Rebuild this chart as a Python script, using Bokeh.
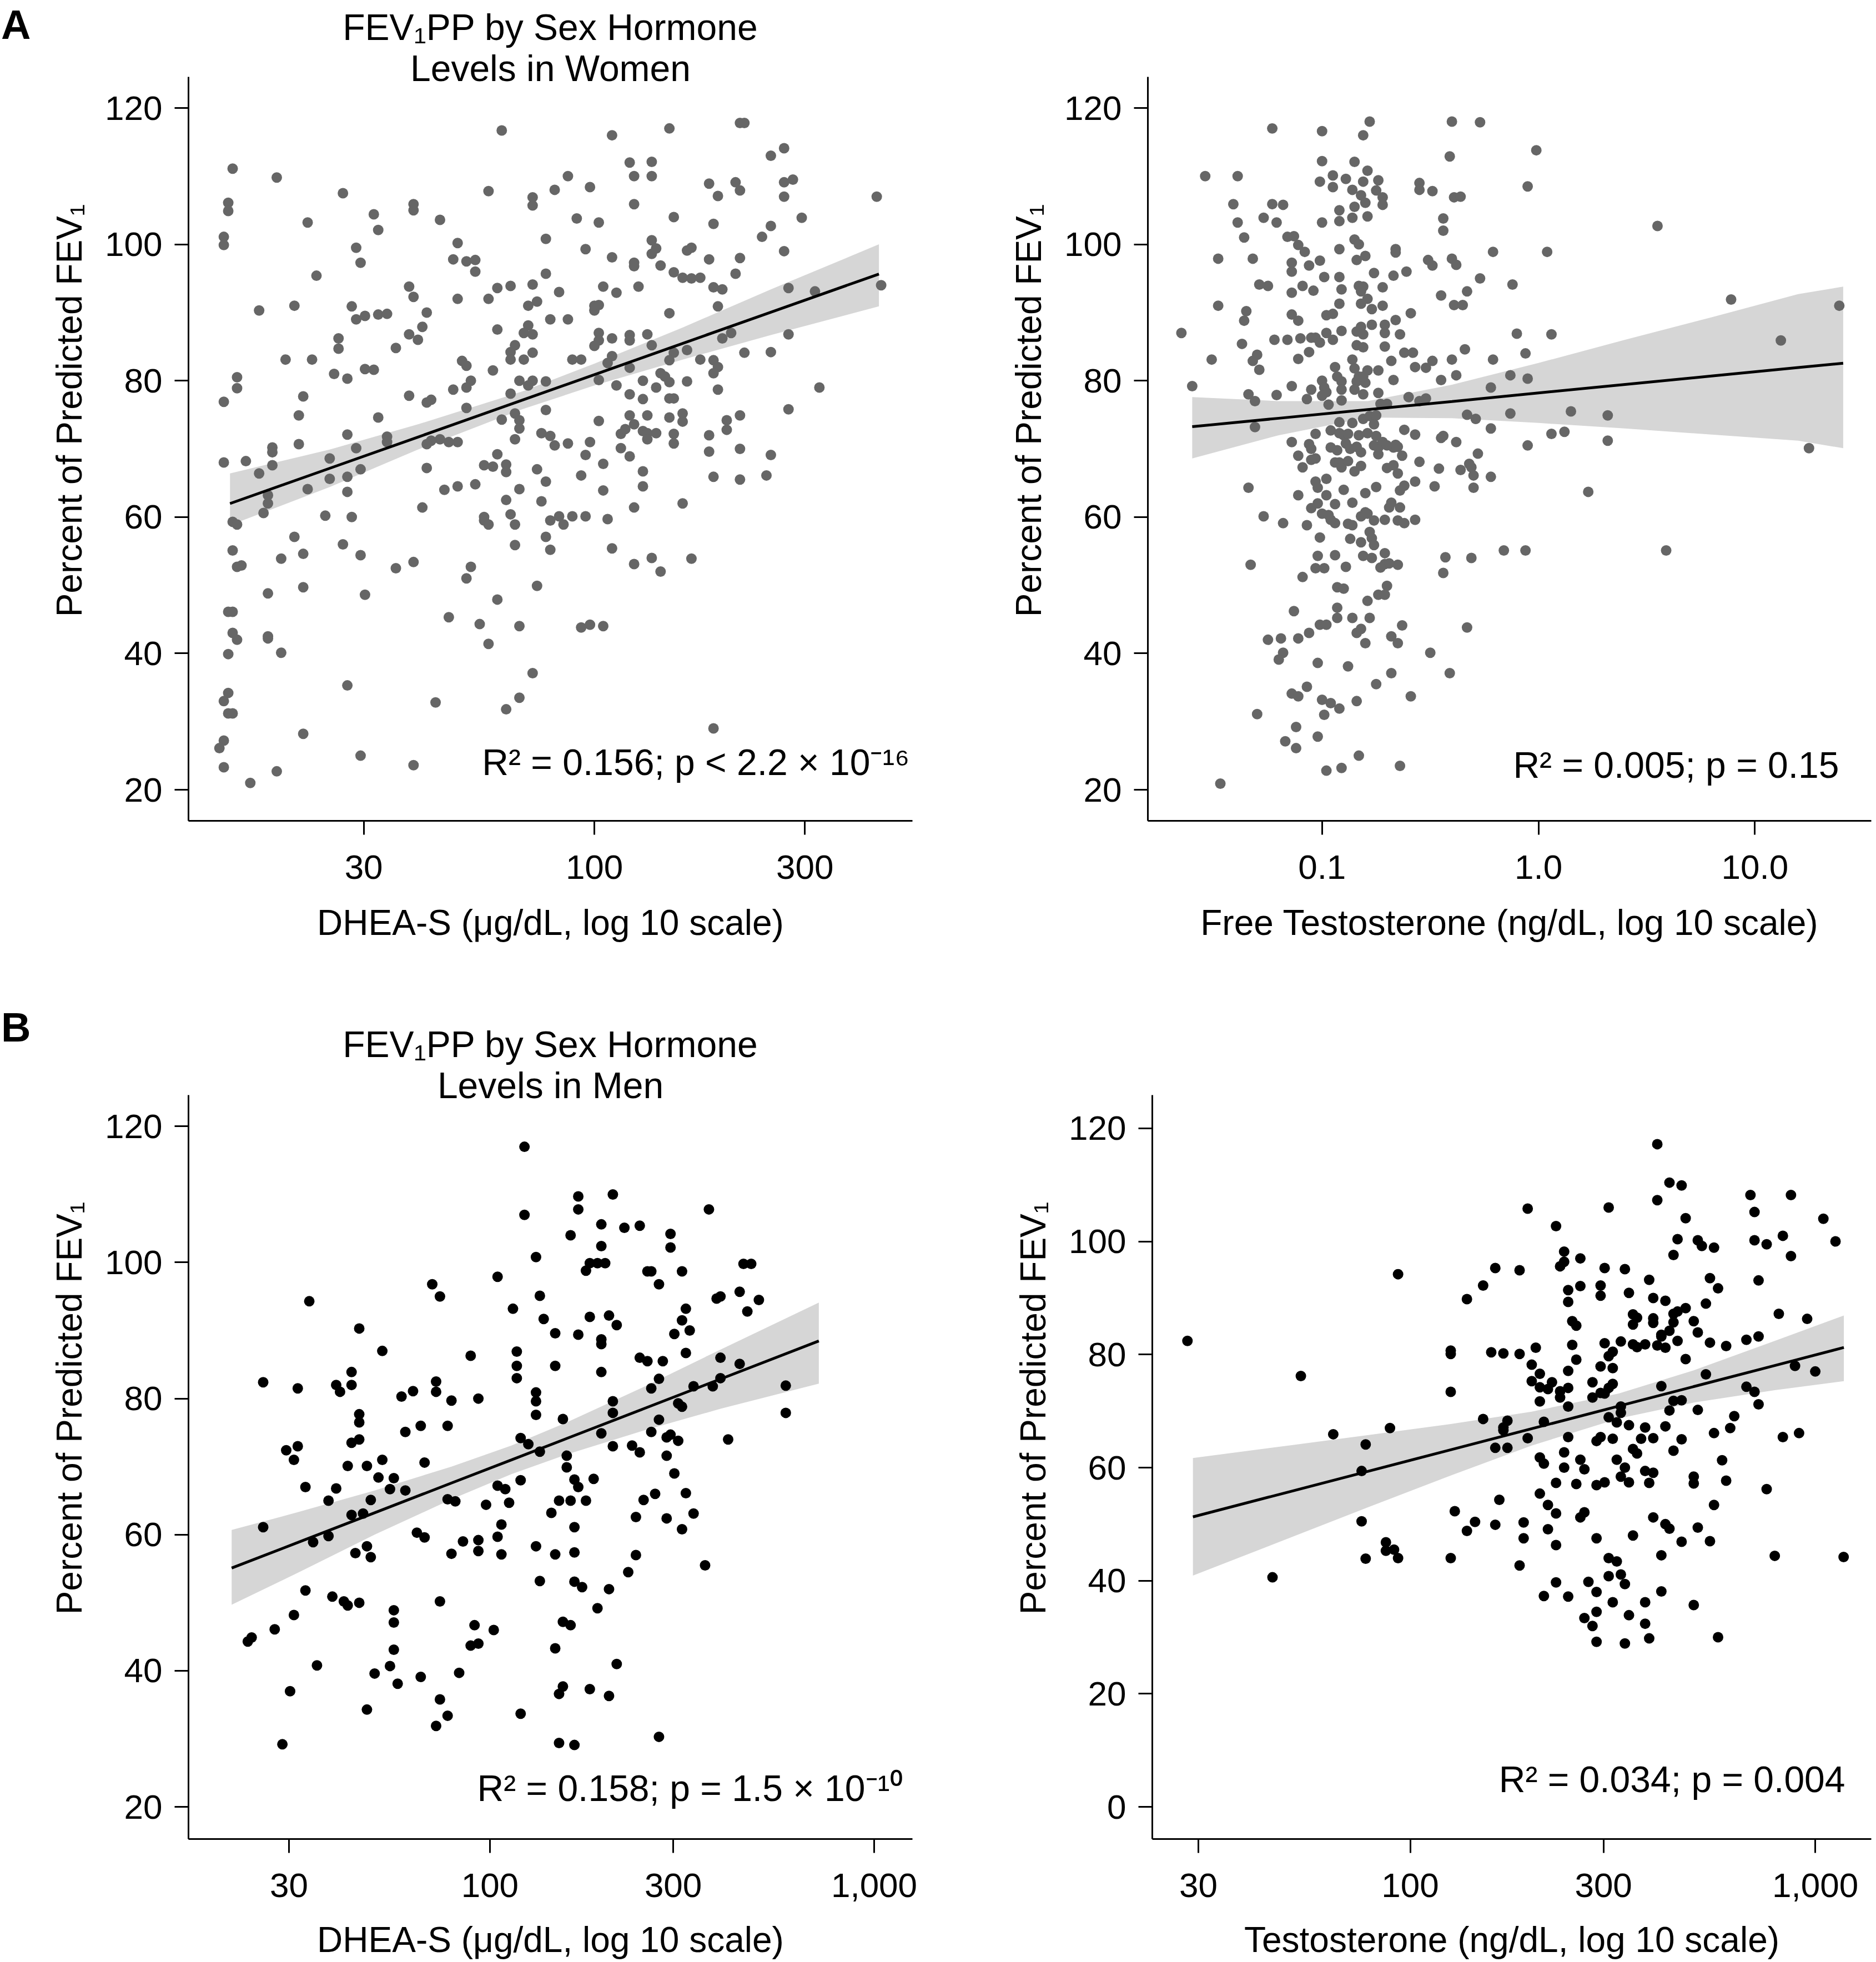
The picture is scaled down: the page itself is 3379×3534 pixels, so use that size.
import numpy as np
from bokeh.plotting import figure
from bokeh.models import Range1d, FixedTicker, Label, CustomJSTickFormatter, Div
from bokeh.layouts import column, row
from bokeh.embed import file_html
from bokeh.resources import INLINE

FONT = "Liberation Sans"

# ---------------- Panel A (women): DHEA-S (log10 ug/dL) vs FEV1 % predicted ----------------
women_dhea_log10 = [
    1.79, 2.33, 2.34, 2.17, 2.04, 2.43, 2.40, 2.08, 2.13, 1.18,
    2.09, 2.13, 1.94, 1.28, 2.26, 2.32, 2.33, 2.43, 2.45, 1.99,
    1.43, 1.76, 1.91, 1.86, 1.86, 2.28, 2.43, 2.64, 1.17, 1.17,
    1.59, 1.59, 2.09, 1.50, 2.18, 1.96, 1.65, 2.47, 1.35, 2.01,
    2.27, 2.40, 1.51, 2.38, 1.16, 1.16, 1.89, 2.13, 1.69, 1.46,
    1.98, 2.14, 2.13, 2.21, 2.22, 2.43, 1.68, 1.71, 1.73, 2.04,
    2.26, 2.33, 1.47, 2.09, 2.09, 2.15, 1.73, 2.18, 1.89, 2.32,
    1.37, 2.20, 2.22, 2.24, 1.86, 1.78, 1.81, 1.58, 2.02, 2.10,
    2.27, 2.29, 2.44, 2.50, 2.65, 1.92, 2.05, 1.59, 1.69, 1.76,
    1.87, 1.85, 1.32, 2.28, 1.24, 1.45, 1.48, 1.46, 1.51, 1.53,
    1.62, 2.17, 2.00, 2.00, 2.01, 1.90, 1.94, 1.61, 1.85, 1.84,
    1.86, 1.78, 1.58, 1.60, 2.01, 2.04, 2.08, 2.08, 2.12, 2.44,
    2.31, 2.29, 1.42, 1.42, 2.01, 2.00, 2.13, 1.82, 1.55, 2.21,
    2.18, 1.81, 1.81, 1.86, 2.34, 2.40, 1.30, 1.36, 1.70, 1.71,
    1.84, 1.95, 1.97, 2.24, 2.27, 2.17, 2.04, 2.03, 2.08, 2.28,
    2.27, 1.48, 1.50, 1.77, 1.41, 1.44, 1.19, 1.19, 2.15, 2.16,
    2.17, 1.83, 1.86, 1.85, 1.72, 1.89, 2.01, 2.05, 2.11, 2.21,
    2.14, 2.51, 1.68, 1.71, 2.28, 1.34, 1.81, 1.58, 1.16, 2.08,
    2.11, 2.17, 2.18, 1.62, 1.63, 1.71, 2.44, 1.89, 1.33, 1.51,
    2.08, 2.12, 2.17, 2.20, 2.20, 2.33, 1.79, 1.82, 1.83, 2.01,
    2.09, 2.30, 2.30, 1.83, 2.06, 2.07, 2.11, 2.12, 2.14, 2.18,
    1.88, 1.90, 1.44, 1.53, 1.53, 1.65, 1.63, 1.62, 1.67, 1.69,
    1.82, 2.12, 2.26, 1.99, 1.33, 1.94, 1.91, 2.06, 2.18, 1.27,
    1.27, 1.46, 2.26, 2.33, 1.78, 1.98, 2.08, 2.40, 1.40, 1.21,
    1.16, 1.27, 1.75, 1.77, 1.80, 1.80, 2.02, 1.62, 1.47, 1.87,
    2.11, 1.24, 1.44, 1.97, 2.27, 2.39, 2.33, 1.40, 1.89, 1.69,
    1.73, 1.66, 1.35, 2.11, 1.83, 1.44, 2.02, 1.26, 1.26, 1.80,
    1.88, 2.20, 2.09, 1.61, 1.25, 1.81, 1.92, 1.95, 1.98, 1.39,
    1.45, 1.75, 1.75, 1.76, 2.03, 1.90, 1.93, 1.18, 1.19, 1.82,
    1.32, 1.89, 1.43, 1.82, 1.18, 1.90, 2.04, 1.34, 1.47, 1.29,
    2.13, 2.22, 2.09, 1.59, 1.19, 1.20, 1.55, 1.72, 1.71, 2.15,
    1.87, 1.34, 1.26, 1.48, 1.78, 1.17, 1.18, 1.67, 1.74, 1.83,
    1.97, 1.99, 2.02, 1.18, 1.19, 1.26, 1.26, 1.76, 1.29, 1.17,
    1.86, 1.44, 1.17, 1.16, 1.17, 1.18, 1.64, 1.83, 1.80, 2.27,
    1.34, 1.16, 1.15, 1.47, 1.59, 1.16, 1.28, 1.22,
]
women_dhea_fev = [
    116.7, 117.8, 117.8, 117.0, 116.0, 114.1, 113.0, 112.0, 112.1, 111.1,
    110.0, 110.0, 110.0, 109.8, 108.9, 109.1, 107.9, 109.1, 109.5, 108.4,
    107.5, 107.8, 108.0, 106.9, 105.7, 107.1, 107.0, 107.0, 106.1, 104.9,
    105.9, 105.0, 105.9, 104.4, 104.0, 103.8, 103.6, 103.9, 103.2, 103.2,
    103.0, 102.7, 102.1, 101.1, 101.1, 99.9, 100.8, 100.6, 100.2, 99.5,
    99.3, 99.4, 98.6, 99.1, 99.5, 99.0, 97.8, 97.5, 97.7, 98.1,
    97.8, 98.0, 97.3, 97.3, 96.8, 96.9, 96.0, 95.9, 95.7, 95.7,
    95.4, 95.1, 95.0, 95.1, 94.1, 93.6, 93.9, 93.8, 93.8, 93.8,
    93.7, 93.4, 93.6, 93.1, 94.0, 93.0, 92.9, 92.3, 92.0, 92.0,
    91.6, 91.0, 91.0, 90.9, 90.3, 90.9, 89.5, 89.0, 89.7, 89.8,
    90.0, 89.9, 90.3, 91.0, 91.1, 89.0, 89.0, 87.9, 88.1, 87.0,
    86.8, 87.5, 86.8, 86.0, 87.0, 86.2, 86.7, 85.9, 86.8, 86.8,
    87.0, 86.2, 86.2, 84.7, 85.9, 85.1, 85.2, 85.2, 84.8, 84.5,
    84.1, 84.2, 83.1, 84.1, 84.1, 84.2, 83.1, 83.1, 82.9, 82.2,
    83.1, 83.1, 83.1, 83.1, 83.0, 83.0, 83.6, 82.6, 81.9, 82.0,
    81.1, 81.7, 81.6, 81.5, 81.0, 80.3, 80.5, 78.9, 81.1, 80.6,
    79.8, 80.0, 80.0, 79.3, 80.0, 79.9, 80.1, 79.3, 80.0, 79.9,
    79.0, 79.0, 78.7, 79.0, 78.7, 77.7, 78.1, 77.8, 76.9, 78.0,
    77.3, 77.4, 77.4, 76.8, 77.2, 76.0, 75.8, 75.7, 74.9, 74.6,
    74.9, 74.9, 74.6, 75.2, 74.0, 74.9, 74.3, 75.2, 74.2, 74.1,
    73.6, 74.2, 72.8, 73.0, 72.2, 72.9, 72.6, 72.3, 72.3, 72.2,
    72.3, 71.9, 72.1, 71.8, 71.0, 71.4, 71.2, 70.7, 71.0, 71.0,
    71.4, 71.4, 72.0, 71.0, 70.7, 70.8, 70.5, 70.1, 70.8, 70.2,
    69.5, 70.1, 69.6, 70.0, 69.2, 69.1, 68.9, 69.1, 68.6, 68.2,
    68.0, 67.6, 67.6, 67.4, 67.7, 66.6, 67.8, 67.2, 67.0, 67.0,
    66.7, 66.4, 65.9, 66.1, 65.9, 66.1, 65.5, 65.6, 65.2, 64.5,
    64.8, 64.0, 64.1, 64.5, 64.1, 63.7, 63.9, 63.2, 62.0, 62.5,
    62.3, 62.0, 61.4, 61.4, 60.6, 60.4, 60.1, 60.1, 60.1, 60.2,
    60.0, 60.0, 59.5, 58.9, 59.7, 59.5, 58.9, 59.3, 58.9, 58.9,
    57.1, 57.1, 56.0, 55.9, 55.1, 55.2, 55.4, 54.6, 54.4, 53.9,
    54.0, 53.9, 53.1, 53.4, 52.7, 52.9, 52.5, 52.7, 51.0, 52.0,
    49.9, 49.7, 48.8, 48.6, 47.9, 46.1, 46.1, 45.3, 44.3, 44.0,
    43.8, 44.2, 44.0, 43.0, 42.0, 42.5, 42.2, 41.4, 40.1, 39.9,
    37.1, 35.3, 34.2, 33.0, 31.2, 31.2, 32.8, 33.5, 31.8, 29.0,
    28.2, 27.2, 26.1, 25.0, 23.6, 23.3, 22.7, 21.0,
]
women_dhea_fit_log10 = [1.174, 1.4, 1.6, 1.836, 2.0, 2.2, 2.4, 2.645]
women_dhea_fit = [61.98, 67.15, 71.73, 77.13, 80.89, 85.47, 90.04, 95.65]
women_dhea_lo = [58.8, 64.4, 69.9, 75.8, 79.3, 83.1, 86.7, 90.9]
women_dhea_hi = [66.4, 69.9, 73.6, 78.4, 82.5, 87.8, 93.4, 100.0]

# ---------------- Panel A (women): free testosterone (log10 ng/dL) ----------------
women_ft_log10 = [
    -1.23, -1.00, -0.81, -0.78, -0.40, -0.27, -0.01, -0.41, -1.00, -0.85,
    -1.54, -1.39, -0.95, -0.89, -1.01, -0.81, -0.74, -0.79, -0.55, -0.55,
    -0.49, -0.86, -0.95, -0.82, -0.75, -0.72, -0.72, -0.80, -0.85, -0.05,
    -0.39, -0.36, -1.41, -1.23, -1.18, -0.92, -1.27, -1.39, -1.21, -1.00,
    -0.92, -0.86, -0.79, -0.44, -0.44, -1.36, -1.16, -1.13, -1.11, -1.08,
    -0.85, -0.83, -0.92, -0.80, -0.84, -0.66, -0.66, -1.48, -1.32, -1.01,
    -1.06, -1.14, -1.14, -0.99, -0.92, -0.76, -0.67, -0.61, -0.51, -0.49,
    -0.40, -0.38, -0.21, 0.04, 0.55, -1.29, -1.25, -1.09, -1.04, -1.14,
    -0.91, -0.83, -0.81, -0.82, -0.72, -0.79, -0.82, -0.92, -0.45, -0.33,
    -0.27, -0.12, -0.39, -0.35, -1.48, -1.35, -1.36, -1.14, -1.11, -0.98,
    -0.95, -0.77, -0.72, -0.59, -0.66, -0.91, -0.98, -1.03, -1.05, -0.82,
    -0.77, -0.84, -0.81, -0.71, -0.71, -0.64, 0.89, 1.39, -1.65, -1.16,
    -1.10, -1.22, -1.37, -1.01, -0.95, -0.84, -0.81, -0.71, -0.10, 0.06,
    1.12, -0.34, -1.06, -1.11, -1.30, -1.32, -1.51, -1.29, -0.94, -0.86,
    -0.85, -0.79, -0.74, -0.68, -0.62, -0.58, -0.57, -0.52, -0.49, -0.40,
    -0.21, -0.06, -0.83, -0.84, -0.80, -0.81, -0.93, -0.91, -1.00, -0.99,
    -0.67, -0.45, -0.38, -0.13, -0.05, -1.60, -1.34, -1.21, -1.14, -1.05,
    -0.98, -1.00, -1.07, -0.91, -0.85, -0.81, -0.74, -0.91, -0.97, -0.73,
    -0.70, -0.60, -0.55, -0.52, -0.22, -1.31, -1.31, -0.92, -0.86, -0.81,
    -0.78, -0.75, -0.76, -0.96, -1.03, -0.92, -0.90, -0.88, -0.83, -0.79,
    -0.75, -0.62, -0.57, -0.45, -0.44, -0.38, -0.33, -0.29, -0.13, 0.15,
    0.32, -0.22, 0.06, 0.12, 0.32, -0.05, 1.25, -1.14, -1.06, -1.05,
    -0.96, -0.93, -0.89, -0.87, -0.84, -0.82, -0.76, -0.74, -0.74, -0.72,
    -0.70, -0.67, -0.66, -0.65, -0.63, -1.11, -1.09, -1.05, -1.03, -0.94,
    -0.92, -0.91, -0.88, -0.85, -0.82, -0.67, -0.70, -0.65, -0.55, -0.46,
    -0.36, -0.32, -0.31, -0.28, -0.30, -0.22, -0.30, -0.48, -0.57, -0.62,
    -0.64, -0.75, -0.80, -0.90, -0.98, -1.03, -1.02, -0.98, -1.11, -1.34,
    0.23, -0.94, -0.86, -1.05, -1.02, -1.00, -0.97, -0.94, -0.96, -0.88,
    -0.86, -0.80, -0.82, -0.79, -0.69, -0.68, -0.64, -0.76, -0.71, -0.65,
    -0.62, -0.57, -1.27, -1.18, -1.07, -1.01, -0.87, -0.82, -0.78, -0.77,
    -0.76, -0.94, -1.02, -0.81, -0.77, -0.71, -0.71, -0.69, -0.65, -0.73,
    -0.89, -1.03, -0.99, -0.43, -0.44, -0.31, -0.16, -0.06, 0.59, -1.33,
    -1.09, -0.93, -0.90, -0.74, -0.71, -0.70, -0.79, -1.13, -0.93, -0.93,
    -0.86, -0.78, -1.01, -0.98, -1.06, -1.11, -0.84, -0.82, -0.80, -0.68,
    -0.65, -0.63, -0.33, -1.25, -1.19, -1.18, -1.20, -0.50, -1.02, -0.88,
    -0.68, -0.41, -0.75, -1.07, -1.14, -1.11, -1.00, -0.96, -0.92, -0.84,
    -0.99, -0.59, -1.30, -1.12, -1.17, -1.12, -1.02, -0.83, -0.98, -0.91,
    -0.64, -1.47,
]
women_ft_fev = [
    117.0, 116.6, 116.0, 118.0, 118.0, 117.9, 113.8, 112.9, 112.2, 112.1,
    110.0, 110.0, 110.1, 109.6, 109.2, 109.2, 109.4, 110.8, 109.0, 108.0,
    107.8, 108.0, 108.4, 107.2, 107.9, 106.9, 105.8, 106.1, 105.5, 108.5,
    106.9, 107.0, 105.9, 105.9, 105.8, 105.0, 103.9, 103.2, 103.2, 103.2,
    103.4, 103.9, 104.1, 103.8, 102.0, 101.0, 101.1, 101.2, 99.9, 98.9,
    100.7, 100.0, 99.3, 98.3, 97.7, 99.3, 98.8, 97.9, 97.9, 97.6,
    96.9, 97.3, 96.0, 95.2, 95.2, 95.8, 95.4, 96.0, 97.7, 96.9,
    97.9, 97.0, 98.9, 98.9, 102.7, 94.1, 93.9, 93.9, 93.2, 92.9,
    93.4, 93.9, 93.8, 93.1, 93.7, 92.0, 91.3, 91.3, 92.5, 93.1,
    95.0, 94.1, 91.1, 91.1, 91.0, 90.2, 88.8, 89.7, 88.8, 89.6,
    89.8, 90.5, 91.0, 89.9, 88.9, 87.3, 87.0, 86.3, 86.3, 87.9,
    88.2, 87.2, 86.8, 88.2, 87.0, 86.8, 91.9, 91.0, 87.0, 86.0,
    86.2, 86.0, 85.4, 85.6, 86.0, 85.2, 84.9, 85.0, 86.9, 86.8,
    85.9, 84.6, 84.2, 83.2, 83.8, 82.9, 83.1, 81.6, 82.0, 83.1,
    81.8, 81.5, 81.5, 82.9, 84.1, 84.1, 82.0, 81.9, 82.9, 83.1,
    83.1, 84.0, 80.6, 79.9, 79.7, 80.6, 80.6, 79.9, 80.0, 79.0,
    80.1, 80.1, 80.8, 80.8, 80.3, 79.2, 78.0, 77.9, 79.2, 78.7,
    78.3, 77.8, 77.3, 78.7, 78.7, 78.0, 78.2, 77.1, 76.5, 76.6,
    76.6, 77.6, 77.0, 77.4, 79.0, 77.0, 73.2, 73.9, 73.8, 74.4,
    74.8, 74.9, 73.6, 72.7, 72.2, 72.3, 72.0, 72.2, 72.0, 72.3,
    71.9, 72.8, 72.1, 71.6, 71.9, 71.0, 75.0, 74.4, 75.2, 75.5,
    74.9, 73.0, 72.2, 72.5, 71.2, 70.5, 70.1, 71.0, 70.7, 70.0,
    70.2, 69.8, 70.8, 70.0, 70.3, 69.5, 70.5, 70.2, 69.2, 71.0,
    70.5, 70.2, 70.6, 70.3, 69.0, 69.0, 67.3, 68.4, 68.6, 68.0,
    68.0, 67.3, 68.2, 66.7, 67.5, 67.6, 67.2, 66.4, 68.1, 67.1,
    66.9, 67.8, 67.3, 69.3, 66.1, 65.9, 64.3, 64.5, 65.2, 64.6,
    63.9, 64.4, 63.5, 64.0, 65.6, 65.2, 64.3, 63.2, 63.2, 64.3,
    63.7, 61.9, 62.1, 61.3, 62.0, 60.5, 60.3, 59.1, 59.6, 59.0,
    58.8, 60.7, 60.1, 60.5, 61.4, 62.1, 61.4, 59.5, 59.6, 59.5,
    59.1, 59.6, 60.1, 59.1, 58.8, 57.0, 56.8, 56.3, 57.8, 56.9,
    55.9, 54.4, 54.3, 54.3, 54.0, 54.7, 53.1, 53.2, 53.0, 52.6,
    52.7, 52.5, 52.5, 54.1, 51.8, 54.0, 55.1, 55.1, 55.1, 53.0,
    51.2, 49.7, 49.5, 48.6, 48.6, 49.9, 47.7, 46.2, 46.7, 45.2,
    45.2, 45.2, 44.2, 44.2, 43.0, 42.2, 43.0, 43.6, 41.5, 42.5,
    41.5, 44.1, 43.8, 42.0, 42.2, 40.1, 39.1, 40.1, 38.6, 38.1,
    37.1, 37.1, 35.5, 35.1, 34.1, 33.7, 33.2, 32.7, 31.9, 33.0,
    31.0, 33.7, 31.1, 29.2, 27.1, 26.1, 27.8, 25.0, 22.8, 23.2,
    23.5, 20.9,
]
women_ft_fit_log10 = [-1.6, -1.2, -0.789, -0.4, 0.0, 0.4, 0.8, 1.2, 1.408]
women_ft_fit = [73.25, 74.49, 75.76, 76.95, 78.21, 79.45, 80.69, 81.93, 82.57]
women_ft_lo = [68.6, 72.0, 74.6, 74.5, 73.8, 73.0, 72.1, 71.2, 70.1]
women_ft_hi = [77.6, 77.0, 77.0, 79.4, 82.6, 86.0, 89.3, 92.7, 93.8]

# ---------------- Panel B (men): DHEA-S (log10 ug/dL) ----------------
men_dhea_log10 = [
    2.09, 2.32, 2.23, 2.23, 2.57, 2.09, 2.29, 2.39, 2.35, 2.47,
    2.21, 2.29, 2.47, 2.12, 2.26, 2.28, 2.30, 2.66, 2.68, 2.25,
    2.41, 2.42, 2.50, 2.02, 1.85, 2.44, 1.87, 2.13, 2.59, 2.60,
    2.65, 2.70, 1.53, 2.67, 2.06, 2.51, 2.14, 2.26, 2.31, 2.50,
    2.33, 1.66, 2.52, 2.48, 2.17, 2.23, 2.29, 2.29, 1.72, 2.07,
    2.51, 1.95, 2.39, 2.41, 2.45, 2.60, 2.07, 2.17, 2.65, 1.64,
    2.29, 2.07, 1.41, 1.50, 1.60, 1.64, 1.61, 1.86, 1.86, 1.80,
    2.42, 2.44, 2.60, 2.53, 2.58, 2.77, 2.12, 2.12, 1.77, 1.90,
    1.97, 2.32, 2.49, 2.50, 1.66, 1.66, 2.12, 2.32, 2.77, 1.82,
    1.89, 1.78, 2.29, 2.19, 2.44, 2.42, 2.47, 2.46, 2.49, 2.08,
    2.10, 2.62, 1.64, 1.66, 1.47, 1.50, 1.49, 2.37, 2.39, 2.13,
    2.32, 2.46, 2.20, 1.83, 1.63, 1.68, 1.72, 2.20, 2.48, 1.71,
    1.75, 1.60, 1.52, 1.74, 1.78, 2.02, 2.04, 2.08, 2.22, 2.23,
    2.27, 1.89, 1.91, 1.58, 1.69, 2.05, 1.99, 2.18, 2.21, 2.25,
    2.40, 2.43, 2.51, 2.16, 1.64, 1.67, 2.38, 2.46, 2.53, 1.41,
    1.81, 1.83, 2.22, 2.50, 1.54, 1.58, 1.93, 1.97, 2.02, 2.03,
    2.12, 1.65, 1.68, 1.69, 1.90, 1.97, 2.03, 2.17, 2.22, 2.38,
    2.56, 2.36, 2.13, 2.22, 2.24, 2.31, 1.52, 1.59, 1.62, 1.63,
    1.66, 1.87, 2.28, 1.49, 1.75, 1.75, 1.44, 1.38, 1.37, 1.96,
    2.01, 2.19, 2.21, 1.95, 1.97, 1.75, 2.17, 1.55, 1.70, 1.74,
    1.82, 1.92, 1.76, 2.33, 1.48, 1.87, 2.19, 2.18, 2.26, 2.31,
    1.68, 1.89, 2.08, 1.86, 2.44, 1.46, 2.18, 2.22,
]
men_dhea_fev = [
    117.0, 110.0, 109.7, 107.8, 107.8, 107.0, 105.6, 105.4, 105.1, 104.2,
    104.0, 102.4, 102.2, 100.8, 99.9, 99.9, 99.9, 99.8, 99.8, 98.8,
    98.7, 98.7, 98.7, 97.9, 96.8, 96.8, 95.0, 95.1, 94.7, 95.0,
    95.7, 94.5, 94.3, 92.8, 93.2, 93.2, 91.7, 92.0, 92.2, 91.5,
    90.8, 90.3, 90.0, 89.5, 89.6, 89.4, 88.7, 88.0, 87.0, 86.9,
    86.7, 86.3, 86.0, 85.5, 85.5, 86.0, 84.8, 84.8, 85.1, 83.9,
    83.9, 83.0, 82.4, 81.5, 82.0, 82.0, 81.0, 82.5, 81.0, 81.1,
    81.5, 82.9, 83.0, 81.8, 81.8, 81.9, 80.9, 79.6, 80.3, 79.7,
    80.0, 79.6, 79.3, 78.8, 77.7, 76.5, 77.6, 77.9, 77.9, 76.0,
    76.0, 75.1, 74.9, 77.0, 76.9, 75.1, 74.7, 74.3, 73.8, 74.2,
    73.3, 74.0, 73.5, 74.0, 72.4, 73.0, 71.0, 73.1, 72.1, 72.2,
    73.0, 71.6, 71.6, 70.6, 70.1, 70.1, 71.0, 69.9, 69.0, 68.4,
    68.3, 66.8, 67.0, 66.7, 66.5, 67.2, 66.7, 68.0, 68.1, 67.0,
    68.2, 65.2, 64.9, 65.0, 65.1, 64.7, 64.4, 65.0, 65.0, 65.0,
    65.1, 66.0, 66.1, 63.2, 62.9, 63.1, 62.6, 62.4, 63.1, 61.1,
    60.3, 59.6, 61.1, 60.8, 58.9, 59.8, 59.0, 59.2, 59.7, 61.5,
    58.3, 57.3, 58.3, 56.7, 57.2, 57.6, 57.1, 57.1, 57.4, 57.0,
    55.5, 54.5, 53.2, 53.1, 52.3, 52.0, 51.8, 50.9, 50.2, 49.6,
    50.0, 50.2, 49.2, 48.2, 48.9, 47.1, 46.1, 44.9, 44.3, 46.7,
    46.0, 47.2, 46.7, 43.7, 44.0, 43.1, 43.3, 40.8, 39.6, 40.7,
    39.1, 39.7, 38.1, 41.0, 37.0, 35.8, 37.7, 36.6, 37.3, 36.3,
    34.3, 33.4, 33.7, 31.9, 30.3, 29.2, 29.4, 29.1,
]
men_dhea_fit_log10 = [1.328, 1.5, 1.7, 1.9, 2.056, 2.2, 2.4, 2.6, 2.856]
men_dhea_fit = [55.1, 58.85, 63.22, 67.59, 70.99, 74.14, 78.5, 82.87, 88.46]
men_dhea_lo = [49.7, 54.4, 60.0, 65.2, 68.9, 71.8, 75.3, 78.5, 82.2]
men_dhea_hi = [60.7, 63.3, 66.5, 70.0, 73.1, 76.5, 81.7, 87.2, 94.1]

# ---------------- Panel B (men): total testosterone (log10 ng/dL) ----------------
men_t_log10 = [
    2.61, 2.64, 2.67, 2.61, 2.84, 2.94, 2.85, 2.29, 2.49, 2.68,
    3.02, 2.36, 2.66, 2.71, 2.72, 2.75, 2.85, 2.88, 2.92, 3.05,
    2.65, 2.94, 2.38, 2.38, 2.37, 2.42, 2.21, 2.27, 2.48, 2.53,
    1.97, 2.59, 2.74, 2.86, 2.18, 2.42, 2.47, 2.39, 2.47, 2.54,
    2.76, 2.14, 2.39, 2.60, 2.63, 2.73, 2.55, 2.56, 2.65, 2.66,
    2.68, 2.91, 2.98, 2.70, 2.65, 2.55, 2.60, 2.60, 2.40, 2.41,
    2.71, 2.64, 2.62, 2.62, 2.66, 2.61, 2.63, 2.58, 2.56, 2.55,
    2.52, 2.48, 2.40, 2.74, 2.78, 2.83, 2.86, 2.31, 2.10, 2.10,
    2.20, 2.23, 2.27, 2.41, 2.68, 2.50, 2.49, 1.45, 2.47, 2.50,
    2.30, 2.95, 3.00, 2.39, 2.32, 2.30, 2.35, 2.32, 2.34, 2.37,
    2.37, 2.39, 2.45, 2.50, 2.47, 2.48, 2.49, 2.73, 2.62, 2.83,
    2.85, 2.86, 1.73, 2.10, 2.32, 2.45, 2.39, 2.52, 2.52, 2.65,
    2.67, 2.64, 2.71, 2.49, 2.80, 2.18, 2.24, 2.23, 2.23, 1.95,
    2.33, 2.54, 2.58, 2.63, 2.79, 2.51, 1.81, 2.75, 2.92, 2.96,
    1.89, 2.29, 2.39, 2.46, 2.47, 2.50, 2.57, 2.60, 2.67, 2.21,
    2.24, 2.55, 2.56, 2.65, 2.32, 2.33, 2.38, 2.42, 2.38, 2.43,
    2.53, 2.51, 2.77, 1.88, 2.36, 2.41, 2.46, 2.48, 2.52, 2.54,
    2.58, 2.60, 2.59, 2.70, 2.70, 2.78, 2.88, 2.32, 2.34, 2.22,
    2.36, 2.11, 2.16, 2.14, 2.21, 2.28, 2.28, 2.34, 2.36, 2.42,
    2.43, 2.75, 1.88, 2.46, 2.55, 2.60, 2.63, 2.64, 2.67, 2.71,
    2.74, 1.94, 1.94, 1.96, 1.89, 1.97, 2.10, 2.27, 2.49, 2.51,
    2.62, 2.90, 3.07, 1.66, 2.49, 2.52, 2.36, 2.44, 2.53, 2.33,
    2.39, 2.46, 2.62, 2.50, 2.58, 2.70, 2.46, 2.43, 2.54, 2.45,
    2.58, 2.59, 2.46, 2.53, 2.76,
]
men_t_fev = [
    117.2, 110.4, 109.9, 107.3, 108.2, 108.2, 105.2, 105.8, 106.0, 104.1,
    104.0, 102.7, 100.4, 100.2, 99.2, 98.9, 100.2, 99.5, 101.0, 100.0,
    97.6, 97.4, 98.2, 96.4, 95.6, 97.0, 95.3, 94.9, 95.3, 95.1,
    94.2, 93.2, 93.5, 93.1, 92.2, 92.1, 92.2, 91.4, 90.4, 90.9,
    91.7, 89.8, 89.3, 90.0, 89.5, 89.0, 87.1, 86.5, 87.2, 87.6,
    88.2, 87.2, 86.3, 85.9, 85.7, 85.3, 86.4, 85.6, 85.9, 85.1,
    83.9, 84.2, 83.2, 83.5, 82.4, 81.6, 81.2, 81.8, 81.3, 81.8,
    82.3, 82.0, 81.7, 82.1, 81.5, 82.6, 83.2, 81.2, 80.7, 80.1,
    80.4, 80.2, 80.1, 79.1, 79.2, 80.5, 79.7, 82.4, 77.9, 77.6,
    78.2, 78.0, 77.0, 77.1, 76.6, 75.3, 75.1, 74.2, 73.9, 73.5,
    72.4, 74.1, 75.1, 74.8, 73.2, 73.1, 74.1, 76.5, 74.4, 74.3,
    73.4, 71.2, 76.2, 73.4, 71.7, 72.4, 70.8, 70.8, 69.7, 71.8,
    71.9, 70.1, 70.2, 68.9, 69.1, 68.6, 68.3, 67.1, 66.6, 67.0,
    68.1, 67.5, 67.1, 67.3, 67.0, 68.0, 65.9, 66.1, 65.4, 66.1,
    64.1, 65.2, 65.4, 64.7, 65.4, 65.1, 65.1, 65.2, 65.0, 63.5,
    63.5, 63.3, 62.5, 63.0, 61.8, 60.7, 62.7, 61.4, 60.0, 59.7,
    60.0, 61.4, 61.3, 59.4, 57.3, 57.1, 56.9, 57.4, 58.4, 57.4,
    59.4, 59.1, 57.3, 58.4, 57.2, 57.7, 56.2, 55.4, 53.4, 54.3,
    51.9, 52.3, 50.4, 48.8, 49.9, 50.3, 47.5, 49.1, 46.3, 51.2,
    52.1, 53.4, 50.5, 47.5, 48.0, 51.2, 50.0, 49.2, 46.9, 49.4,
    47.0, 46.8, 45.3, 45.5, 43.9, 44.0, 44.0, 42.7, 44.0, 43.4,
    44.5, 44.4, 44.2, 40.6, 40.8, 41.1, 39.7, 39.8, 39.4, 37.3,
    37.2, 38.0, 38.1, 36.2, 36.2, 35.7, 34.5, 33.4, 33.9, 32.0,
    32.4, 29.8, 29.2, 28.9, 30.0,
]
men_t_fit_log10 = [1.4635, 1.7, 1.9, 2.1, 2.3, 2.515, 2.7, 2.9, 3.0706]
men_t_fit = [51.29, 55.70, 59.42, 63.15, 66.88, 70.88, 74.33, 78.06, 81.24]
men_t_lo = [40.9, 47.5, 53.1, 58.6, 63.9, 68.7, 71.5, 73.7, 75.3]
men_t_hi = [61.7, 63.9, 65.8, 67.7, 69.9, 73.1, 77.2, 82.4, 86.9]

# ---------------- axis ticks / texts ----------------
dhea_women_ticks = [30, 100, 300]
dhea_women_labels = ["30", "100", "300"]
ft_ticks = [0.1, 1.0, 10.0]
ft_labels = ["0.1", "1.0", "10.0"]
men_ticks = [30, 100, 300, 1000]
men_labels = ["30", "100", "300", "1,000"]
y_ticks_main = [20, 40, 60, 80, 100, 120]
y_ticks_t = [0, 20, 40, 60, 80, 100, 120]

Y_TITLE = "Percent of Predicted FEV\u2081"
TITLE_1 = "FEV\u2081PP by Sex Hormone"
ANN_A1 = "R\u00b2 = 0.156; p < 2.2 \u00d7 10\u207b\u00b9\u2076"
ANN_A2 = "R\u00b2 = 0.005; p = 0.15"
ANN_B1 = "R\u00b2 = 0.158; p = 1.5 \u00d7 10\u207b\u00b9\u2070"
ANN_B2 = "R\u00b2 = 0.034; p = 0.004"

LABEL_SHIFT = 26  # screen px, lifts text labels to their baseline position


def tick_formatter(tvals, tlabels):
    return CustomJSTickFormatter(args=dict(tv=tvals, tl=tlabels), code="""
        let best = 0, bd = Infinity;
        for (let i = 0; i < tv.length; i++) {
            const d = Math.abs(Math.log(tick) - Math.log(tv[i]));
            if (d < bd) { bd = d; best = i; }
        }
        return tl[best];
    """)


def style_axis(ax, label_standoff, tick_label_standoff):
    ax.axis_line_color = "black"
    ax.axis_line_width = 3
    ax.major_tick_line_color = "black"
    ax.major_tick_line_width = 3
    ax.major_tick_out = 25
    ax.major_tick_in = 0
    ax.minor_tick_line_color = None
    ax.major_label_text_font = FONT
    ax.major_label_text_font_size = "62px"
    ax.major_label_text_color = "black"
    ax.major_label_standoff = tick_label_standoff
    ax.axis_label_text_font = FONT
    ax.axis_label_text_font_size = "64px"
    ax.axis_label_text_font_style = "normal"
    ax.axis_label_text_color = "black"
    ax.axis_label_standoff = label_standoff


def add_text(p, x, y, text, size="64px", align="center", style="normal"):
    p.add_layout(Label(x=x, y=y + LABEL_SHIFT, x_units="screen", y_units="screen", text=text,
                       text_font=FONT, text_font_size=size, text_align=align,
                       text_baseline="alphabetic", text_font_style=style,
                       text_color="black"))


def make_panel(w, h, mb, xr, yr, ybounds, xticks, xlabels, yticks, xtitle, color,
               xs_log, ys, fit_log, fit_y, lo, hi, xstandoff):
    p = figure(width=w, height=h, x_axis_type="log",
               x_range=Range1d(*xr), y_range=Range1d(*yr),
               output_backend="svg", toolbar_location=None,
               min_border_left=mb[0], min_border_right=mb[1],
               min_border_top=mb[2], min_border_bottom=mb[3])
    p.outline_line_color = None
    p.xgrid.visible = False
    p.ygrid.visible = False
    p.background_fill_color = "white"
    p.border_fill_color = "white"

    style_axis(p.xaxis[0], xstandoff, 37)
    style_axis(p.yaxis[0], 25, 22)
    p.xaxis[0].ticker = FixedTicker(ticks=xticks)
    p.xaxis[0].formatter = tick_formatter(xticks, xlabels)
    p.yaxis[0].ticker = FixedTicker(ticks=yticks)
    p.yaxis[0].bounds = ybounds
    p.xaxis[0].axis_label = xtitle
    p.yaxis[0].axis_label = Y_TITLE

    fx = np.power(10.0, np.array(fit_log))
    p.varea(x=fx, y1=lo, y2=hi, fill_color="#d6d6d6", fill_alpha=1.0)
    p.scatter(np.power(10.0, np.array(xs_log)), ys, size=19,
              fill_color=color, line_color=None)
    p.line(fx, fit_y, line_color="black", line_width=5)
    return p


def letter_div(w, h, letter, top_pad):
    html = ('<span style="font-family: \'Liberation Sans\', Arial, sans-serif; '
            'font-size: 74px; font-weight: bold; line-height: 74px; color: black;">'
            + letter + '</span>')
    return Div(text=html, width=w, height=h,
               styles={"font-size": "74px", "line-height": "74px",
                       "padding-left": "2px", "padding-top": f"{top_pad}px",
                       "margin": "0", "box-sizing": "border-box"})


TOP_H = 1760
BOT_H = 1772

# Top row (women)
pA1 = make_panel(1622, TOP_H, (271, 47, 0, 282), (12.02, 526), (15.44, 135.8), (15.44, 124.56),
                 dhea_women_ticks, dhea_women_labels, y_ticks_main,
                 "DHEA-S (\u03bcg/dL, log 10 scale)", "#666666",
                 women_dhea_log10, women_dhea_fev,
                 women_dhea_fit_log10, women_dhea_fit, women_dhea_lo, women_dhea_hi, 40)
add_text(pA1, 652, 1404, TITLE_1, size="66px")
add_text(pA1, 652, 1330, "Levels in Women", size="66px")
add_text(pA1, 1299, 80, ANN_A1, size="66px", align="right")

pA2 = make_panel(1687, TOP_H, (377, 7, 0, 282), (0.01567, 34.5), (15.44, 135.8), (15.44, 124.56),
                 ft_ticks, ft_labels, y_ticks_main,
                 "Free Testosterone (ng/dL, log 10 scale)", "#666666",
                 women_ft_log10, women_ft_fev,
                 women_ft_fit_log10, women_ft_fit, women_ft_lo, women_ft_hi, 40)
add_text(pA2, 1245, 75, ANN_A2, size="66px", align="right")

# Bottom row (men)
pB1 = make_panel(1622, BOT_H, (271, 47, 0, 216), (16.43, 1258), (15.28, 141.89), (15.28, 124.56),
                 men_ticks, men_labels, y_ticks_main,
                 "DHEA-S (\u03bcg/dL, log 10 scale)", "black",
                 men_dhea_log10, men_dhea_fev,
                 men_dhea_fit_log10, men_dhea_fit, men_dhea_lo, men_dhea_hi, 38)
add_text(pB1, 652, 1406, TITLE_1, size="66px")
add_text(pB1, 652, 1332, "Levels in Men", size="66px")
add_text(pB1, 1286, 66, ANN_B1, size="66px", align="right")

pB2 = make_panel(1687, BOT_H, (385, 7, 0, 216), (23.08, 1375), (-5.68, 146.69), (-5.68, 125.83),
                 men_ticks, men_labels, y_ticks_t,
                 "Testosterone (ng/dL, log 10 scale)", "black",
                 men_t_log10, men_t_fev,
                 men_t_fit_log10, men_t_fit, men_t_lo, men_t_hi, 38)
add_text(pB2, 1248, 82, ANN_B2, size="66px", align="right")

letA = letter_div(68, TOP_H, "A", 8)
letB = letter_div(68, BOT_H, "B", 54)

layout = column(row(letA, pA1, pA2), row(letB, pB1, pB2))
open("out.html", "w").write(file_html(layout, INLINE))
